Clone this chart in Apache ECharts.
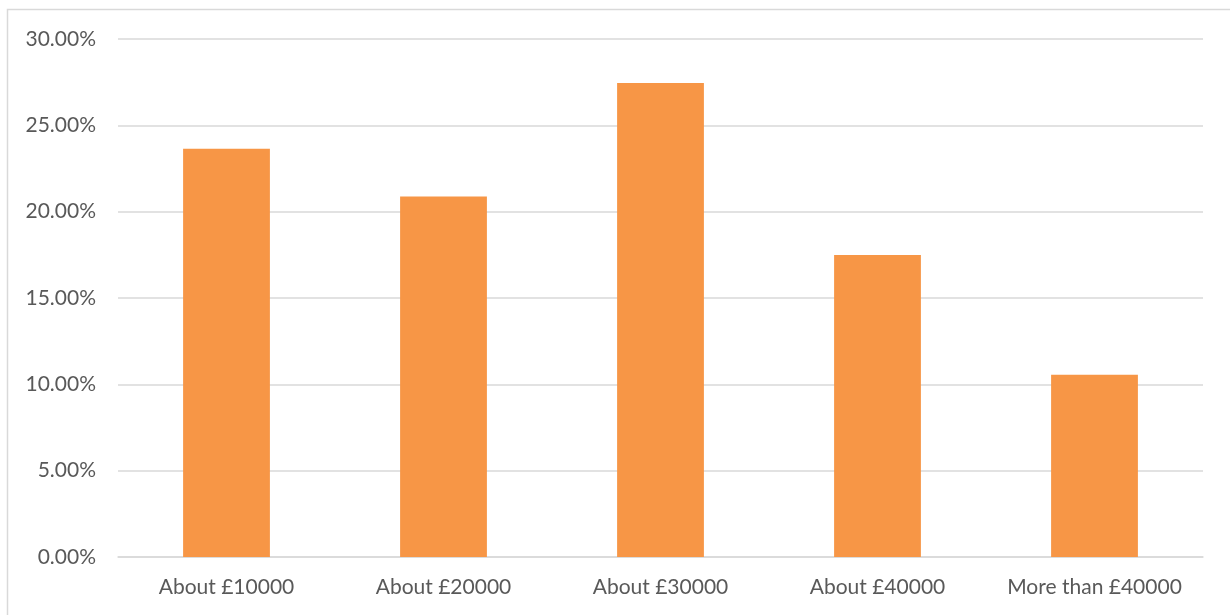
<!DOCTYPE html>
<html>
<head>
<meta charset="utf-8">
<script src="https://cdn.jsdelivr.net/npm/echarts@6/dist/echarts.min.js"></script>
<style>
html,body{margin:0;padding:0;background:#fff;}
#chart{width:1230px;height:615px;}
</style>
</head>
<body>
<div id="chart"></div>
<script>
const categories = ['About £10000', 'About £20000', 'About £30000', 'About £40000', 'More than £40000'];
const shares = [23.65, 20.88, 27.45, 17.49, 10.56];
const yTicks = [0, 5, 10, 15, 20, 25, 30];

const chart = echarts.init(document.getElementById('chart'), null, {renderer: 'canvas'});
chart.setOption({
  animation: false,
  backgroundColor: '#ffffff',
  textStyle: {fontFamily: 'Lato'},
  graphic: [{
    type: 'rect',
    shape: {x: 7.5, y: 9.5, width: 1300, height: 700},
    style: {fill: 'none', stroke: '#D9D9D9', lineWidth: 1.5},
    silent: true,
    z: -1
  }],
  grid: {left: 118, right: 27, top: 39, bottom: 58, containLabel: false},
  xAxis: {
    type: 'category',
    data: categories,
    axisLine: {show: true, lineStyle: {color: '#D9D9D9', width: 1.5}},
    axisTick: {show: false},
    axisLabel: {color: '#595959', fontSize: 21, fontFamily: 'Lato', margin: 20, interval: 0, hideOverlap: false}
  },
  yAxis: {
    type: 'value',
    min: yTicks[0],
    max: yTicks[yTicks.length - 1],
    interval: 5,
    axisLine: {show: false},
    axisTick: {show: false},
    splitLine: {lineStyle: {color: '#D9D9D9', width: 1.5}},
    axisLabel: {
      color: '#595959', fontSize: 21, fontFamily: 'Lato', margin: 22,
      formatter: v => v.toFixed(2) + '%'
    }
  },
  series: [{
    type: 'bar',
    data: shares,
    barWidth: '40%',
    itemStyle: {color: '#F79646'}
  }]
});
</script>
</body>
</html>
